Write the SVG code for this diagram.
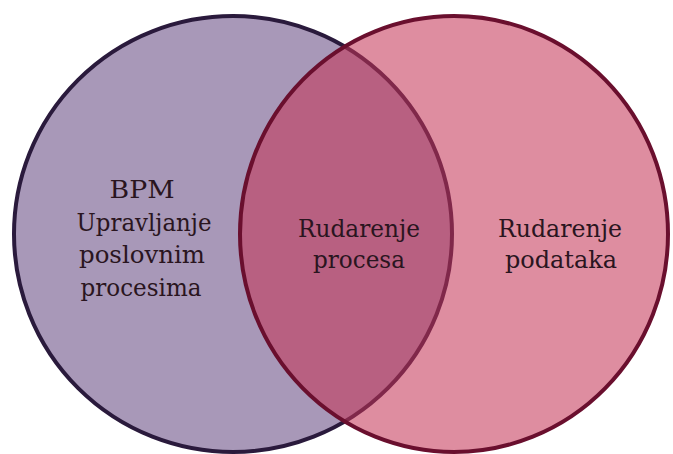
<svg xmlns="http://www.w3.org/2000/svg" width="673" height="454" viewBox="0 0 673 454">
<style>
text{font-family:'DejaVu Serif',serif;font-size:25px;fill:#2a1520;text-anchor:middle}
</style>
<rect width="673" height="454" fill="#ffffff"/>
<g id="bpm">
<ellipse cx="233" cy="234" rx="219" ry="218" fill="#a898b8" stroke="#2a1a3c" stroke-width="4"/>
</g>
<g id="data-mining">
<ellipse cx="454" cy="234" rx="214" ry="218" fill="#c43356" fill-opacity="0.56" stroke="#6a0f2e" stroke-width="4"/>
</g>
<g id="bpm-label">
<text x="142" y="198" textLength="65" lengthAdjust="spacingAndGlyphs">BPM</text>
<text x="144" y="231" textLength="135" lengthAdjust="spacingAndGlyphs">Upravljanje</text>
<text x="142" y="263" textLength="126" lengthAdjust="spacingAndGlyphs">poslovnim</text>
<text x="141" y="296" textLength="121" lengthAdjust="spacingAndGlyphs">procesima</text>
</g>
<g id="process-mining">
<text x="359" y="237" textLength="122" lengthAdjust="spacingAndGlyphs">Rudarenje</text>
<text x="359" y="268" textLength="92" lengthAdjust="spacingAndGlyphs">procesa</text>
</g>
<g id="data-mining-label">
<text x="560" y="237" textLength="124" lengthAdjust="spacingAndGlyphs">Rudarenje</text>
<text x="561" y="268" textLength="112" lengthAdjust="spacingAndGlyphs">podataka</text>
</g>
</svg>
